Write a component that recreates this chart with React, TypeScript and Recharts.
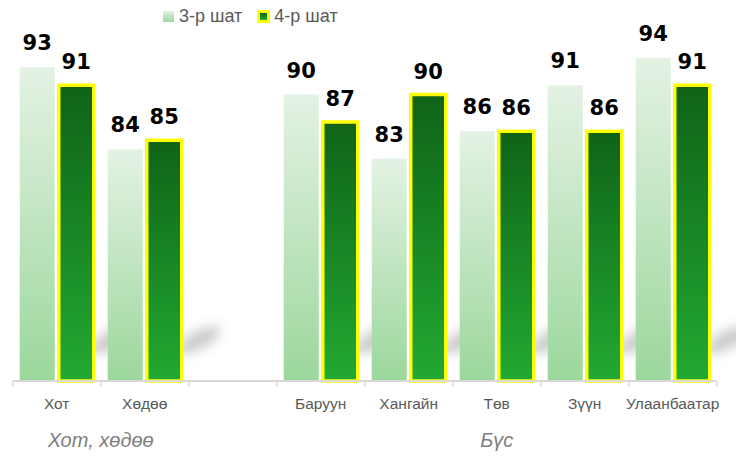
import React from "react";
import { BarChart, Bar, XAxis, YAxis, LabelList } from "recharts";

const categories = ["Хот", "Хөдөө", "", "Баруун", "Хангайн", "Төв", "Зүүн", "Улаанбаатар"];
const grade3: (number | null)[] = [93, 84, null, 90, 83, 86, 91, 94];
const grade4: (number | null)[] = [91, 85, null, 87, 90, 86, 86, 91];
const seriesNames = ["3-р шат", "4-р шат"];
const groups = [
  { label: "Хот, хөдөө", from: 0, to: 1 },
  { label: "Бүс", from: 3, to: 7 },
];

const data = categories.map((name, i) => ({ name, s3: grade3[i], s4: grade4[i] }));

const W = 736;
const H = 456;
const M = { top: 3, right: 19.3, bottom: 0, left: 12.7 };
const BAND = (W - M.left - M.right) / categories.length;
const HALF = BAND / 2;
const BAR_GAP = 4;

const AXIS_GRAY = "#d9d9d9";
const TEXT_GRAY = "#595959";

const CategoryTick = (props: any) => {
  const { x, y, payload, index } = props;
  const isLast = index === categories.length - 1;
  const group = groups.find((g) => g.from === index);
  return (
    <g>
      <line x1={x - HALF} x2={x - HALF} y1={y} y2={y + 6} stroke={AXIS_GRAY} strokeWidth={1.5} />
      {isLast && (
        <line x1={x + HALF} x2={x + HALF} y1={y} y2={y + 6} stroke={AXIS_GRAY} strokeWidth={1.5} />
      )}
      <text
        x={x}
        y={y + 28}
        textAnchor="middle"
        fill={TEXT_GRAY}
        fontSize={15.5}
        fontFamily="'Liberation Sans', Arial, sans-serif"
      >
        {payload.value}
      </text>
      {group && (
        <text
          x={x + (group.to - group.from) * HALF}
          y={y + 66}
          textAnchor="middle"
          fill="#7f7f7f"
          fontSize={20}
          fontStyle="italic"
          fontFamily="'Liberation Sans', Arial, sans-serif"
        >
          {group.label}
        </text>
      )}
    </g>
  );
};

const Shape3 = (props: any) => {
  const { x, y, width, height, fill } = props;
  if (height == null || !(height > 0)) return null;
  const baseY = y + height;
  const cx = x + 2 * width + BAR_GAP + 17;
  const cy = baseY - 41;
  return (
    <g>
      <ellipse
        cx={cx}
        cy={cy}
        rx={24}
        ry={9}
        fill="#a8a8a8"
        opacity={0.6}
        filter="url(#shadowBlur)"
        transform={`rotate(-28 ${cx} ${cy})`}
      />
      <rect x={x} y={y} width={width} height={height} fill={fill} />
    </g>
  );
};

const labelStyle = {
  fontFamily: "'DejaVu Sans', Verdana, sans-serif",
  fontSize: 21,
  fontWeight: 700,
};

export default function App() {
  return (
    <div style={{ position: "absolute", left: 0, top: 0, width: W, height: H, background: "#fff" }}>
      <BarChart width={W} height={H} data={data} margin={M} barGap={BAR_GAP} barCategoryGap="8%">
        <defs>
          <linearGradient id="g3" x1="0" y1="0" x2="0" y2="1">
            <stop offset="0%" stopColor="#e4f2e4" />
            <stop offset="100%" stopColor="#9bd79b" />
          </linearGradient>
          <linearGradient id="g4" x1="0" y1="0" x2="0" y2="1">
            <stop offset="0%" stopColor="#0f6318" />
            <stop offset="100%" stopColor="#22a932" />
          </linearGradient>
          <filter id="shadowBlur" x="-50%" y="-100%" width="200%" height="300%">
            <feGaussianBlur stdDeviation="6" />
          </filter>
        </defs>
        <YAxis hide domain={[58.7, 100]} />
        <XAxis
          dataKey="name"
          height={75}
          tickSize={0}
          tickMargin={0}
          tickLine={false}
          axisLine={{ stroke: AXIS_GRAY, strokeWidth: 2 }}
          tick={<CategoryTick />}
          interval={0}
        />
        <Bar dataKey="s3" name={seriesNames[0]} fill="url(#g3)" shape={<Shape3 />} isAnimationActive={false}>
          <LabelList dataKey="s3" position="top" offset={17} fill="#000" style={labelStyle} />
        </Bar>
        <Bar
          dataKey="s4"
          name={seriesNames[1]}
          fill="url(#g4)"
          stroke="#ffff00"
          strokeWidth={3.5}
          isAnimationActive={false}
        >
          <LabelList dataKey="s4" position="top" offset={16} fill="#000" style={labelStyle} />
        </Bar>
      </BarChart>
      <div
        style={{
          position: "absolute",
          left: 163,
          top: 5,
          display: "flex",
          alignItems: "center",
          fontFamily: "'Liberation Sans', Arial, sans-serif",
          fontSize: 18,
          color: TEXT_GRAY,
          lineHeight: "22px",
        }}
      >
        <span
          style={{
            display: "inline-block",
            width: 11,
            height: 11,
            background: "linear-gradient(#e4f2e4, #9bd79b)",
            marginRight: 5,
          }}
        />
        <span style={{ marginRight: 15 }}>{seriesNames[0]}</span>
        <span
          style={{
            display: "inline-block",
            width: 7,
            height: 7,
            background: "linear-gradient(#0f6318, #22a932)",
            border: "3px solid #ffff00",
            marginRight: 4,
          }}
        />
        <span>{seriesNames[1]}</span>
      </div>
    </div>
  );
}
